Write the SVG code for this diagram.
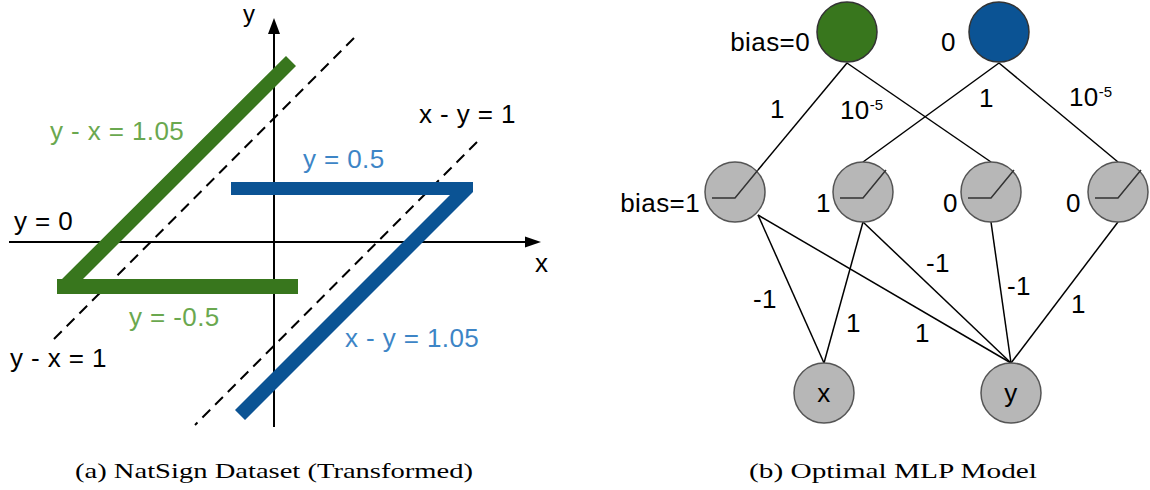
<svg xmlns="http://www.w3.org/2000/svg" width="1150" height="490" viewBox="0 0 1150 490">
<style>
text{font-family:"Liberation Sans",Arial,sans-serif;font-size:26px;letter-spacing:0.4px;fill:#000}
.g{fill:#6aa84f}
.b{fill:#3d85c6}
.sup{font-size:15px;letter-spacing:0}
.cap{font-family:"Liberation Serif","Times New Roman",serif;font-size:22px;letter-spacing:0}
.axis{stroke:#000;stroke-width:2;fill:none}
.dash{stroke:#000;stroke-width:2;stroke-dasharray:11 7;fill:none}
.edge{stroke:#000;stroke-width:1.5;fill:none}
.hid{fill:#b7b7b7;stroke:#555;stroke-width:1.5}
.inp{fill:#b7b7b7;stroke:#555;stroke-width:1.5}
.relu{stroke:#333;stroke-width:1.5;fill:none}
</style>
<rect width="1150" height="490" fill="#fff"/>
<g id="plot">
<line class="axis" x1="274" y1="30" x2="274" y2="427"/>
<polygon points="274,18 268,34 280,34" fill="#000"/>
<line class="axis" x1="9" y1="242" x2="528" y2="242"/>
<polygon points="541,242 525,236.5 525,247.5" fill="#000"/>
<line class="dash" x1="354" y1="38" x2="50" y2="343"/>
<line class="dash" x1="477" y1="142" x2="195" y2="425"/>
<polygon points="57,279 62,279 286,56 296,66 83,279 298,279 298,294 57,294" fill="#38761d"/>
<polygon points="231,182 473,182 473,192 245,420 235,410 450,195 231,195" fill="#0b5394"/>
<text x="243" y="22" style="font-size:24px">y</text>
<text x="535" y="272">x</text>
<text x="14" y="230">y = 0</text>
<text class="g" x="50" y="140">y - x = 1.05</text>
<text class="b" x="303" y="168">y = 0.5</text>
<text x="419" y="123">x - y = 1</text>
<text class="g" x="129" y="326">y = -0.5</text>
<text x="10" y="367">y - x = 1</text>
<text class="b" x="345" y="347">x - y = 1.05</text>
</g>
<g id="connectors">
<line class="edge" x1="847" y1="63" x2="758" y2="170"/>
<line class="edge" x1="847" y1="63" x2="991" y2="162"/>
<line class="edge" x1="999" y1="63" x2="863" y2="162"/>
<line class="edge" x1="999" y1="63" x2="1118" y2="162"/>
<line class="edge" x1="758" y1="215" x2="824" y2="363"/>
<line class="edge" x1="758" y1="215" x2="1011" y2="363"/>
<line class="edge" x1="863" y1="222" x2="824" y2="363"/>
<line class="edge" x1="863" y1="222" x2="1011" y2="363"/>
<line class="edge" x1="991" y1="222" x2="1011" y2="363"/>
<line class="edge" x1="1118" y1="222" x2="1011" y2="363"/>
</g>
<g id="edge-labels">
<text x="770" y="118">1</text>
<text x="840" y="119">10<tspan class="sup" dy="-9">-5</tspan></text>
<text x="979" y="107">1</text>
<text x="1069" y="106">10<tspan class="sup" dy="-9">-5</tspan></text>
<text x="753" y="308">-1</text>
<text x="846" y="332">1</text>
<text x="915" y="342">1</text>
<text x="926" y="272">-1</text>
<text x="1007" y="295">-1</text>
<text x="1071" y="313">1</text>
</g>
<g id="out-green">
<circle cx="847" cy="32" r="30" fill="#38761d" stroke="#333" stroke-width="1.5"/>
<text x="810" y="51" text-anchor="end">bias=0</text>
</g>
<g id="out-blue">
<circle cx="999" cy="32" r="30" fill="#0b5394" stroke="#333" stroke-width="1.5"/>
<text x="941" y="51">0</text>
</g>
<g id="h1">
<circle class="hid" cx="735" cy="192" r="30"/>
<path class="relu" d="M712,198 H735 L758,170"/>
<text x="700" y="212" text-anchor="end">bias=1</text>
</g>
<g id="h2">
<circle class="hid" cx="863" cy="192" r="30"/>
<path class="relu" d="M840,198 H863 L886,170"/>
<text x="816" y="212">1</text>
</g>
<g id="h3">
<circle class="hid" cx="991" cy="192" r="30"/>
<path class="relu" d="M968,198 H991 L1014,170"/>
<text x="943" y="212">0</text>
</g>
<g id="h4">
<circle class="hid" cx="1118" cy="192" r="30"/>
<path class="relu" d="M1095,198 H1118 L1141,170"/>
<text x="1066" y="212">0</text>
</g>
<g id="in-x">
<circle class="inp" cx="824" cy="393" r="30"/>
<text x="824" y="402" text-anchor="middle">x</text>
</g>
<g id="in-y">
<circle class="inp" cx="1011" cy="393" r="30"/>
<text x="1011" y="402" text-anchor="middle">y</text>
</g>
<g id="captions">
<text class="cap" x="75" y="478" textLength="398" lengthAdjust="spacingAndGlyphs">(a) NatSign Dataset (Transformed)</text>
<text class="cap" x="749" y="478" textLength="288" lengthAdjust="spacingAndGlyphs">(b) Optimal MLP Model</text>
</g>
</svg>
